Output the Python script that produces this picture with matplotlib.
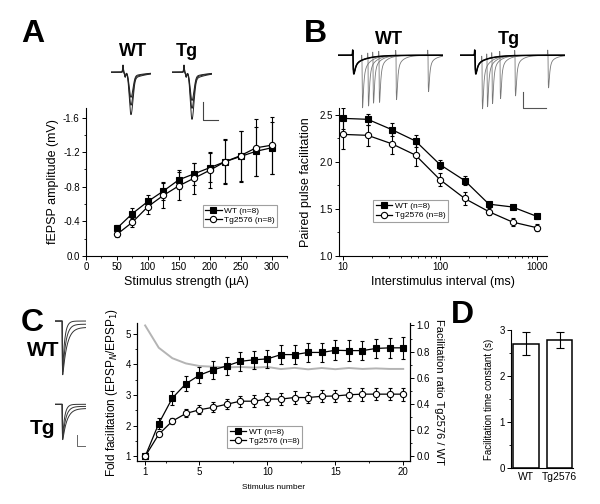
import numpy as np
import matplotlib.pyplot as plt
from matplotlib.ticker import MultipleLocator, FixedLocator, FormatStrFormatter, NullFormatter, LogLocator

plt.rcParams['font.family'] = ['Liberation Sans', 'DejaVu Sans']
plt.rcParams['axes.unicode_minus'] = False

# ---- panel A: input/output ----
stim_strength = [50, 75, 100, 125, 150, 175, 200, 225, 250, 275, 300]
a_wt = [-0.32, -0.49, -0.63, -0.75, -0.88, -0.95, -1.02, -1.09, -1.15, -1.21, -1.25]
a_wt_err = [0.04, 0.06, 0.08, 0.10, 0.11, 0.13, 0.17, 0.25, 0.30, 0.28, 0.30]
a_tg = [-0.25, -0.39, -0.57, -0.70, -0.81, -0.90, -0.99, -1.09, -1.16, -1.25, -1.28]
a_tg_err = [0.03, 0.05, 0.08, 0.14, 0.16, 0.18, 0.21, 0.26, 0.29, 0.33, 0.33]

# ---- panel B: paired pulse facilitation ----
isi = [10, 18, 32, 56, 100, 180, 320, 560, 1000]
b_wt = [2.46, 2.45, 2.34, 2.22, 1.97, 1.80, 1.55, 1.52, 1.42]
b_wt_err = [0.11, 0.06, 0.07, 0.06, 0.05, 0.05, 0.02, 0.02, 0.03]
b_tg = [2.29, 2.28, 2.19, 2.07, 1.81, 1.61, 1.47, 1.36, 1.30]
b_tg_err = [0.15, 0.11, 0.11, 0.12, 0.07, 0.07, 0.04, 0.04, 0.04]

# ---- panel C: train facilitation ----
stim_number = list(range(1, 21))
c_wt = [1.00, 2.07, 2.90, 3.37, 3.65, 3.82, 3.95, 4.10, 4.15, 4.18,
        4.32, 4.32, 4.39, 4.39, 4.46, 4.45, 4.45, 4.52, 4.54, 4.54]
c_wt_err = [0.03, 0.17, 0.23, 0.25, 0.27, 0.30, 0.30, 0.30, 0.30, 0.30,
            0.30, 0.30, 0.32, 0.32, 0.33, 0.33, 0.32, 0.32, 0.33, 0.35]
c_tg = [1.00, 1.72, 2.15, 2.40, 2.52, 2.60, 2.70, 2.80, 2.80, 2.87,
        2.87, 2.92, 2.92, 2.96, 2.97, 3.01, 3.03, 3.03, 3.03, 3.03]
c_tg_err = [0.03, 0.07, 0.10, 0.13, 0.14, 0.16, 0.17, 0.18, 0.19, 0.20,
            0.19, 0.20, 0.18, 0.20, 0.20, 0.21, 0.21, 0.20, 0.20, 0.21]
c_ratio = [1.00, 0.83, 0.75, 0.71, 0.69, 0.685, 0.68, 0.683, 0.678, 0.683,
           0.667, 0.676, 0.665, 0.675, 0.666, 0.675, 0.668, 0.672, 0.668, 0.668]

# ---- panel D: time constant ----
d_groups = ['WT', 'Tg2576']
d_tau = [2.70, 2.78]
d_err = [0.25, 0.18]

# ---- example trace parameters ----
a_amps_wt = [0.8, 1.05, 1.35]
a_amps_tg = [0.9, 1.15, 1.5]
b_isi_wt = [9, 15, 20, 26, 43, 75]
b_amp_wt = [2.5, 2.5, 2.4, 2.4, 2.3, 1.9]
b_isi_tg = [7, 12, 17, 25, 40, 73]
b_amp_tg = [2.5, 2.5, 2.4, 2.2, 2.1, 1.7]
c_tau = [1.8, 2.6, 3.6]
c_resid = [0.0, 0.05, 0.1]

W, H = 600, 504
fig = plt.figure(figsize=(6, 5.04), dpi=100)


def px_axes(x0, y0, x1, y1):
    return fig.add_axes([x0 / W, 1 - y1 / H, (x1 - x0) / W, (y1 - y0) / H])


def style(ax, right=False):
    ax.spines['top'].set_visible(False)
    if not right:
        ax.spines['right'].set_visible(False)
    ax.tick_params(which='major', direction='out', length=3, width=0.7, labelsize=7, pad=1.5)
    ax.tick_params(which='minor', direction='out', length=1.5, width=0.6)
    for s in ax.spines.values():
        s.set_linewidth(0.8)


def response(t, t0, amp, rise=0.5, decay=2.5, slow=0.0, tau_slow=20.0):
    s = np.clip(t - t0, 0, None)
    fast = np.exp(-s / decay) - np.exp(-s / rise)
    fast = fast / fast.max()
    tail = (1 - np.exp(-s / rise)) * np.exp(-s / tau_slow)
    out = -amp * ((1 - slow) * fast + slow * tail)
    art = 0.25 * np.exp(-((t - t0 + 0.3) / 0.25) ** 2)
    return out + art


def v_response(t, t0, delay, amp, w_in=2.4, w_out=2.8, slow=0.18, tau_slow=14.0):
    tp = t0 + delay
    left = np.exp(-((t - tp) / w_in) ** 2)
    left[t < t0] = 0
    right = (1 - slow) * np.exp(-((t - tp) / w_out) ** 2) + slow * np.exp(-(t - tp) / tau_slow)
    shape = np.where(t < tp, left, right)
    art = 0.22 * np.exp(-((t - t0) / 0.5) ** 2) - 0.15 * np.exp(-((t - t0 - 2.2) / 0.8) ** 2)
    return -amp * shape + art


def legend(ax, x, y):
    lg = ax.legend(loc='upper left', bbox_to_anchor=(x, y), fontsize=6, frameon=True,
                   fancybox=False, borderpad=0.3, handlelength=2.0, handletextpad=0.3,
                   labelspacing=0.15, borderaxespad=0)
    lg.get_frame().set_edgecolor('#888888')
    lg.get_frame().set_linewidth(0.8)


def series(ax, x, y, e, filled, label):
    ax.errorbar(x, y, yerr=e, fmt='none', ecolor='black', elinewidth=0.8,
                capsize=1.6, capthick=0.8)
    ax.plot(x, y, '-', color='black', lw=0.9, marker='s' if filled else 'o',
            ms=4 if filled else 4.5, mfc='black' if filled else 'white',
            mec='black', mew=0.8, label=label)


# ================= A =================
axA = px_axes(86, 108, 287, 256)
style(axA)
series(axA, stim_strength, a_wt, a_wt_err, True, 'WT (n=8)')
series(axA, stim_strength, a_tg, a_tg_err, False, 'Tg2576 (n=8)')
axA.set_xlim(0, 325)
axA.set_ylim(0, -1.71)
axA.xaxis.set_major_locator(MultipleLocator(50))
axA.xaxis.set_minor_locator(MultipleLocator(25))
axA.yaxis.set_major_locator(MultipleLocator(0.4))
axA.yaxis.set_minor_locator(MultipleLocator(0.2))
axA.yaxis.set_major_formatter(FormatStrFormatter('%.1f'))
axA.set_xlabel('Stimulus strength (\u00b5A)', fontsize=9, labelpad=3)
axA.set_ylabel('fEPSP amplitude (mV)', fontsize=9, labelpad=3)
legend(axA, 0.58, 0.345)

# ================= B =================
axB = px_axes(339, 108, 547, 256)
style(axB)
series(axB, isi, b_wt, b_wt_err, True, 'WT (n=8)')
series(axB, isi, b_tg, b_tg_err, False, 'Tg2576 (n=8)')
axB.set_xscale('log')
axB.set_xlim(9.1, 1270)
axB.set_ylim(1.0, 2.57)
axB.xaxis.set_major_locator(FixedLocator([10, 100, 1000]))
axB.xaxis.set_major_formatter(FormatStrFormatter('%d'))
axB.xaxis.set_minor_locator(LogLocator(base=10, subs=np.arange(2, 10)))
axB.xaxis.set_minor_formatter(NullFormatter())
axB.yaxis.set_major_locator(MultipleLocator(0.5))
axB.yaxis.set_minor_locator(MultipleLocator(0.25))
axB.yaxis.set_major_formatter(FormatStrFormatter('%.1f'))
axB.set_xlabel('Interstimulus interval (ms)', fontsize=9, labelpad=3)
axB.set_ylabel('Paired pulse facilitation', fontsize=9, labelpad=5)
legend(axB, 0.165, 0.378)

# ================= C =================
axC = px_axes(137, 323, 410, 461)
axR = axC.twinx()
style(axC, right=True)
style(axR, right=True)
axC.set_zorder(axR.get_zorder() + 1)
axC.patch.set_visible(False)
axR.plot(stim_number, c_ratio, color='#b4b4b4', lw=1.4)
series(axC, stim_number, c_wt, c_wt_err, True, 'WT (n=8)')
series(axC, stim_number, c_tg, c_tg_err, False, 'Tg2576 (n=8)')
axC.set_xlim(0.4, 20.5)
axC.set_ylim(0.85, 5.35)
axR.set_ylim((0.85 - 1) / 4.27, (5.35 - 1) / 4.27)
axC.xaxis.set_major_locator(FixedLocator([1, 5, 10, 15, 20]))
axC.xaxis.set_minor_locator(MultipleLocator(2.5))
axC.yaxis.set_major_locator(MultipleLocator(1))
axC.yaxis.set_minor_locator(MultipleLocator(0.5))
axR.yaxis.set_major_locator(MultipleLocator(0.2))
axR.yaxis.set_minor_locator(MultipleLocator(0.1))
axR.yaxis.set_major_formatter(FormatStrFormatter('%.1f'))
axC.set_xlabel('Stimulus number', fontsize=6, labelpad=5)
axC.set_ylabel('Fold facilitation (EPSP$_N$/EPSP$_1$)', fontsize=8.5, labelpad=4)
axR.set_ylabel('Facilitation ratio Tg2576 / WT', fontsize=8, rotation=270, labelpad=10)
legend(axC, 0.33, 0.254)

# ================= D =================
axD = px_axes(511, 330, 573, 468)
style(axD)
axD.bar(range(len(d_groups)), d_tau, width=0.77, color='white', edgecolor='black',
        lw=1.1, yerr=d_err, error_kw=dict(elinewidth=0.8, capsize=3, capthick=0.8))
axD.set_xlim(-0.45, 1.4)
axD.set_ylim(0, 3)
axD.set_xticks(range(len(d_groups)))
axD.set_xticklabels(d_groups, fontsize=7.5)
axD.tick_params(axis='x', length=0, pad=3)
axD.yaxis.set_major_locator(MultipleLocator(1))
axD.yaxis.set_minor_locator(MultipleLocator(0.5))
axD.set_ylabel('Facilitation time constant (s)', fontsize=7, labelpad=4)

# ================= example traces =================
def trace_axes(x0, y0, x1, y1, xlim, ylim):
    ax = px_axes(x0, y0, x1, y1)
    ax.set_xlim(*xlim)
    ax.set_ylim(*ylim)
    ax.axis('off')
    return ax


t_a = np.linspace(0, 40, 800)
for x0, amps in [(111, a_amps_wt), (172, a_amps_tg)]:
    ax = trace_axes(x0, 64, x0 + 40, 120, (0, 40), (-1.52, 0.26))
    for amp in amps:
        ax.plot(t_a, v_response(t_a, 12, 8, amp), color='#222222', lw=0.7)
axs = trace_axes(200, 100, 222, 122, (0, 22), (0, 22))
axs.plot([3, 3, 18], [20, 2, 2], color='#444444', lw=0.8)

t_b = np.linspace(-15, 90, 1500)
for x0, isis, amps in [(338, b_isi_wt, b_amp_wt), (460, b_isi_tg, b_amp_tg)]:
    ax = trace_axes(x0, 48, x0 + 105, 112, (-15, 90), (-2.75, 0.35))
    for d, amp in zip(isis, amps):
        y = response(t_b, 0, 1.0, rise=0.4, decay=1.5, slow=0.5, tau_slow=12) \
            + response(t_b, d, amp, rise=0.3, decay=1.0, slow=0.3, tau_slow=6)
        ax.plot(t_b, y, color='#777777', lw=0.6)
    ax.plot(t_b, response(t_b, 0, 1.0, rise=0.4, decay=1.5, slow=0.5, tau_slow=12),
            color='black', lw=1.1)
axs = trace_axes(520, 88, 550, 112, (0, 30), (0, 24))
axs.plot([3, 3, 26], [20, 4, 4], color='#555555', lw=0.8)

t_c = np.linspace(-6, 20, 800)
for y0, y1 in [(316, 386), (401, 447)]:
    ax = trace_axes(55, y0, 86, y1, (-6, 20), (-1.03, 0.08))
    for tau, r in zip(c_tau, c_resid):
        s = np.clip(t_c, 0, None)
        y = -((1 - r) * np.exp(-s / tau) + r) * (1 - np.exp(-s / 0.15))
        ax.plot(t_c, y, color='#333333', lw=0.7)
axs = trace_axes(74, 432, 88, 448, (0, 14), (0, 16))
axs.plot([3, 3, 11], [13, 2, 2], color='#666666', lw=0.7)

# ================= labels =================
for lab, x, y in [('A', 33, 34), ('B', 315, 34), ('C', 32, 323), ('D', 462, 315)]:
    fig.text(x / W, 1 - y / H, lab, fontsize=23, fontweight='bold', ha='center', va='center')
for lab, x, y, fs in [('WT', 133, 51, 13), ('Tg', 187, 51, 13), ('WT', 389, 39, 13),
                      ('Tg', 509, 39, 13), ('WT', 43, 350, 15), ('Tg', 43, 428, 15)]:
    fig.text(x / W, 1 - y / H, lab, fontsize=fs, fontweight='bold', ha='center', va='center')

fig.savefig('out.png', dpi=100)
